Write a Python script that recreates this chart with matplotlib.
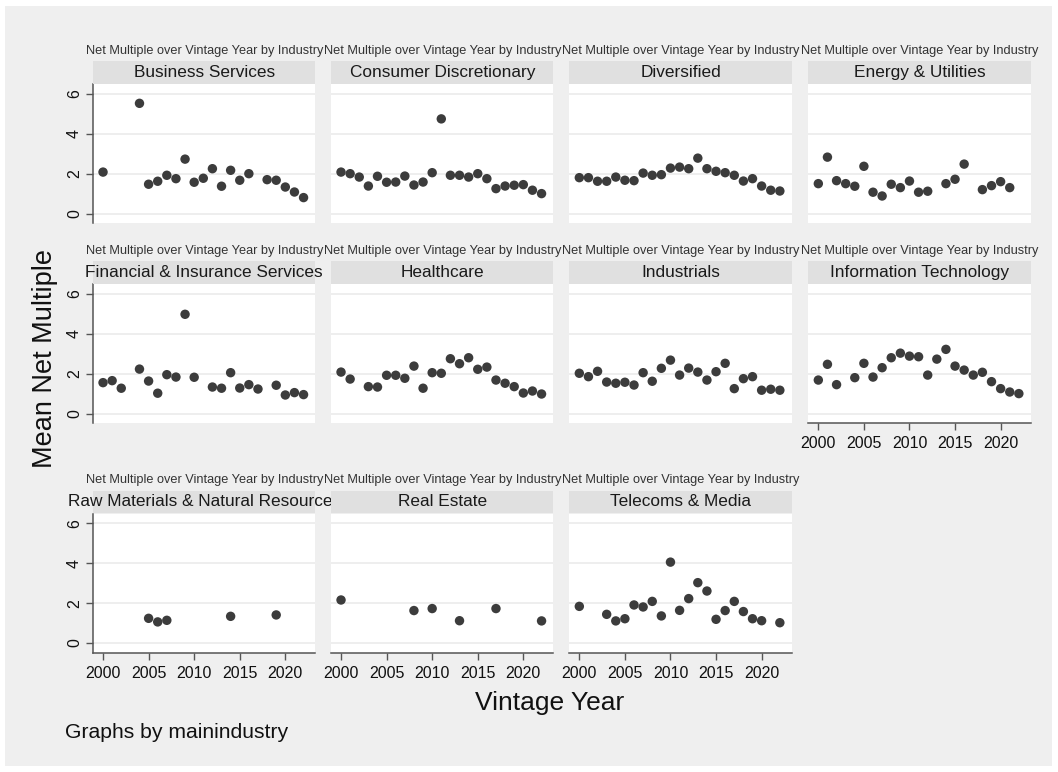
import matplotlib.pyplot as plt
from matplotlib.patches import Rectangle

plt.rcParams['font.family'] = ['Liberation Sans', 'DejaVu Sans']

# Mean net multiple by vintage year, one pair of lists per industry
business_years = [2000, 2004, 2005, 2006, 2007, 2008, 2009, 2010, 2011, 2012,
                  2013, 2014, 2015, 2016, 2018, 2019, 2020, 2021, 2022]
business_mult = [2.08, 5.53, 1.47, 1.62, 1.92, 1.75, 2.73, 1.57, 1.77, 2.25,
                 1.37, 2.17, 1.67, 2.0, 1.7, 1.67, 1.33, 1.08, 0.8]

consumer_years = list(range(2000, 2023))
consumer_mult = [2.08, 2.0, 1.83, 1.38, 1.87, 1.57, 1.58, 1.88, 1.43, 1.58, 2.05, 4.75,
                 1.92, 1.92, 1.83, 2.0, 1.75, 1.25, 1.38, 1.42, 1.45, 1.17, 1.0]

diversified_years = list(range(2000, 2023))
diversified_mult = [1.8, 1.8, 1.62, 1.62, 1.83, 1.67, 1.65, 2.03, 1.92, 1.95, 2.28, 2.33,
                    2.25, 2.78, 2.25, 2.12, 2.05, 1.92, 1.63, 1.75, 1.38, 1.17, 1.13]

energy_years = [2000, 2001, 2002, 2003, 2004, 2005, 2006, 2007, 2008, 2009,
                2010, 2011, 2012, 2014, 2015, 2016, 2018, 2019, 2020, 2021]
energy_mult = [1.5, 2.83, 1.65, 1.5, 1.37, 2.37, 1.07, 0.88, 1.47, 1.3,
               1.63, 1.07, 1.12, 1.5, 1.72, 2.48, 1.2, 1.4, 1.6, 1.3]

financial_years = [2000, 2001, 2002, 2004, 2005, 2006, 2007, 2008, 2009, 2010,
                   2012, 2013, 2014, 2015, 2016, 2017, 2019, 2020, 2021, 2022]
financial_mult = [1.55, 1.65, 1.27, 2.23, 1.63, 1.02, 1.95, 1.83, 4.98, 1.82,
                  1.33, 1.27, 2.05, 1.28, 1.45, 1.23, 1.42, 0.93, 1.05, 0.95]

healthcare_years = [2000, 2001] + list(range(2003, 2023))
healthcare_mult = [2.08, 1.73, 1.35, 1.33, 1.92, 1.92, 1.77, 2.38, 1.27, 2.05, 2.02,
                   2.75, 2.5, 2.8, 2.22, 2.33, 1.68, 1.52, 1.35, 1.03, 1.13, 0.98]

industrials_years = list(range(2000, 2023))
industrials_mult = [2.02, 1.85, 2.12, 1.58, 1.52, 1.57, 1.43, 2.05, 1.62, 2.27, 2.68, 1.93,
                    2.28, 2.08, 1.68, 2.1, 2.52, 1.25, 1.75, 1.85, 1.17, 1.22, 1.17]

it_years = [2000, 2001, 2002] + list(range(2004, 2023))
it_mult = [1.68, 2.47, 1.45, 1.8, 2.52, 1.83, 2.3, 2.8, 3.03, 2.88, 2.85,
           1.93, 2.73, 3.22, 2.38, 2.18, 1.93, 2.07, 1.6, 1.25, 1.08, 1.0]

raw_years = [2005, 2006, 2007, 2014, 2019]
raw_mult = [1.24, 1.06, 1.14, 1.34, 1.41]

realestate_years = [2000, 2008, 2010, 2013, 2017, 2022]
realestate_mult = [2.16, 1.63, 1.73, 1.12, 1.73, 1.11]

telecoms_years = [2000, 2003, 2004, 2005, 2006, 2007, 2008, 2009, 2010, 2011,
                  2012, 2013, 2014, 2015, 2016, 2017, 2018, 2019, 2020, 2022]
telecoms_mult = [1.84, 1.44, 1.11, 1.22, 1.91, 1.81, 2.09, 1.36, 4.06, 1.64,
                 2.23, 3.03, 2.61, 1.19, 1.63, 2.09, 1.58, 1.22, 1.12, 1.02]

industries = ['Business Services', 'Consumer Discretionary', 'Diversified',
              'Energy & Utilities', 'Financial & Insurance Services', 'Healthcare',
              'Industrials', 'Information Technology',
              'Raw Materials & Natural Resources', 'Real Estate', 'Telecoms & Media']
series = [(business_years, business_mult), (consumer_years, consumer_mult),
          (diversified_years, diversified_mult), (energy_years, energy_mult),
          (financial_years, financial_mult), (healthcare_years, healthcare_mult),
          (industrials_years, industrials_mult), (it_years, it_mult),
          (raw_years, raw_mult), (realestate_years, realestate_mult),
          (telecoms_years, telecoms_mult)]

year_ticks = [2000, 2005, 2010, 2015, 2020]
mult_ticks = [0, 2, 4, 6]

W, H = 1058, 772
fig = plt.figure(figsize=(W / 100, H / 100), dpi=100, facecolor='white')
fig.patches.append(Rectangle((5 / W, 6 / H), 1047 / W, 760 / H, transform=fig.transFigure,
                             facecolor='#efefef', edgecolor='none', zorder=-10))


def px_box(left, top, width, height):
    return [left / W, 1 - (top + height) / H, width / W, height / H]


col_left = [93, 331, 569.3, 808.3]
panel_w = 222.4
plot_top = [84, 284, 513.5]
plot_h = 139.5
strip_top = [61, 261, 490.5]
strip_h = 22.5
title_y = [50.7, 250.7, 480]

dark = '#3c3c3c'
axis_col = '#555555'

for i, (name, (yrs, vals)) in enumerate(zip(industries, series)):
    r, c = divmod(i, 4)
    ax = fig.add_axes(px_box(col_left[c], plot_top[r], panel_w, plot_h))
    ax.set_facecolor('white')
    ax.set_xlim(1998.9, 2023.3)
    ax.set_ylim(-0.5, 6.5)
    for g in mult_ticks:
        ax.axhline(g, color='#ededed', lw=1.3, zorder=0)
    ax.scatter(yrs, vals, s=46, color=dark, edgecolors='none', zorder=3)

    show_x = r == 2 or i == 7
    show_y = c == 0
    for side in ['top', 'right']:
        ax.spines[side].set_visible(False)
    ax.spines['left'].set_visible(show_y)
    ax.spines['bottom'].set_visible(show_x)
    for side in ['left', 'bottom']:
        ax.spines[side].set_color(axis_col)
        ax.spines[side].set_linewidth(1.1)

    ax.set_xticks(year_ticks)
    ax.set_yticks(mult_ticks)
    ax.tick_params(axis='x', length=5 if show_x else 0, labelbottom=show_x,
                   color=axis_col, width=1.0, pad=4, labelsize=11.5, labelcolor='#111111')
    ax.tick_params(axis='y', length=5 if show_y else 0, labelleft=show_y,
                   color=axis_col, width=1.0, pad=3, labelsize=11.5, labelcolor='#111111',
                   labelrotation=90)
    for lab in ax.get_yticklabels():
        lab.set_va('center')

    # grey strip with the industry name
    sax = fig.add_axes(px_box(col_left[c], strip_top[r], panel_w, strip_h))
    sax.set_facecolor('#e0e0e0')
    sax.set_xticks([])
    sax.set_yticks([])
    for sp in sax.spines.values():
        sp.set_visible(False)
    sax.text(0.5, 0.5, name, transform=sax.transAxes, ha='center', va='center',
             fontsize=12.4, color='#1a1a1a', clip_on=False)

    fig.text((col_left[c] + panel_w / 2) / W, 1 - title_y[r] / H,
             'Net Multiple over Vintage Year by Industry',
             ha='center', va='center', fontsize=9.2, color='#333333')

fig.text(45 / W, 1 - 358 / H, 'Mean Net Multiple', rotation=90,
         ha='center', va='center', fontsize=19.5, color='#111111')
fig.text(550 / W, 1 - 703 / H, 'Vintage Year', ha='center', va='center',
         fontsize=19, color='#111111')
fig.text(65 / W, 1 - 733 / H, 'Graphs by mainindustry', ha='left', va='center',
         fontsize=15.2, color='#111111')

fig.savefig('out.png', dpi=100, facecolor='white')
